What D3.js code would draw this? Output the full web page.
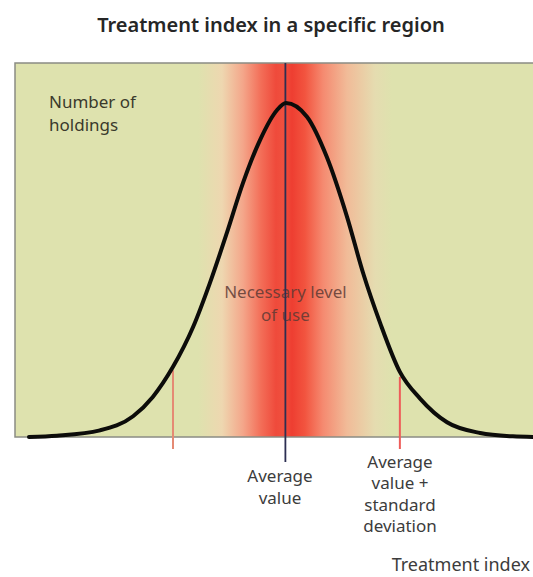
<!DOCTYPE html>
<html>
<head>
<meta charset="utf-8">
<script src="https://cdn.jsdelivr.net/npm/d3@7"></script>
<style>
  body { margin: 0; background: #fff; }
  svg { display: block; }
  text { font-family: "Noto Sans", "Open Sans", sans-serif; }
</style>
</head>
<body>
<div id="chart"></div>
<script>
// treatment index (0-100 across the box) and number of holdings (peak = 100)
var treatmentIndex = [2.7, 8.1, 16.4, 22.8, 26.6, 30.5, 34.4, 37.6, 40.9, 44.0, 47.3, 50.6, 52.3,
                      56.4, 60.2, 64.1, 67.2, 70.5, 74.3, 78.2, 83.4, 89.8, 96.1, 100];
var holdings = [0, 0.4, 2.0, 6.2, 12.0, 21.0, 33.0, 46.0, 61.1, 76.0, 88.9, 97.9, 100,
                95.8, 83.8, 65.9, 49.1, 34.1, 19.5, 11.5, 4.4, 1.2, 0.2, 0];

var averageValue = 52.2;
var sdMarkers = [30.5, 74.3];     // lower / upper marker
var sdMarkerTop = [20, 18];       // where the curve crosses them

var title = "Treatment index in a specific region";
var yLabel = ["Number of", "holdings"];
var xLabel = "Treatment index";
var bandLabel = ["Necessary level", "of use"];
var avgLabel = ["Average", "value"];
var sdLabel = ["Average", "value +", "standard", "deviation"];

var W = 533, H = 577;
var box = {left: 15, top: 63, bottom: 437, right: 533};

var x = d3.scaleLinear().domain([0, 100]).range([box.left, box.right]);
var y = d3.scaleLinear().domain([0, 100]).range([box.bottom, 103]);

var svg = d3.select('#chart').append('svg')
    .attr('width', W)
    .attr('height', H);

// red band behind the average
var defs = svg.append('defs');
var grad = defs.append('linearGradient')
    .attr('id', 'band')
    .attr('gradientUnits', 'userSpaceOnUse')
    .attr('x1', box.left).attr('x2', box.right)
    .attr('y1', 0).attr('y2', 0);

var bg = '#dee2ae';
var stops = [
  [box.left, bg], [198, bg], [222, '#eed7b0'], [243, '#f4a68a'], [261, '#f36e58'],
  [276, '#ef4a3b'], [283, '#f0503e'], [292, '#ee3e31'], [305, '#f2543f'], [323, '#f58a70'],
  [347, '#f1bb98'], [375, '#e5dcb0'], [392, bg], [box.right, bg]
];
grad.selectAll('stop')
    .data(stops)
    .enter()
    .append('stop')
    .attr('offset', function(d){ return (d[0] - box.left) / (box.right - box.left); })
    .attr('stop-color', function(d){ return d[1]; });

svg.append('rect')
    .attr('x', box.left)
    .attr('y', box.top)
    .attr('width', box.right - box.left + 10)
    .attr('height', box.bottom - box.top)
    .attr('fill', 'url(#band)')
    .attr('stroke', '#8b8c84')
    .attr('stroke-width', 1.5);

// title
svg.append('text')
    .attr('x', 271)
    .attr('y', 32)
    .attr('text-anchor', 'middle')
    .attr('font-size', '20px')
    .attr('font-weight', 600)
    .attr('fill', '#262626')
    .text(title);

// y label
svg.append('g')
    .selectAll('text')
    .data(yLabel)
    .enter()
    .append('text')
    .attr('x', 49)
    .attr('y', function(d,i){ return 108 + i*23; })
    .attr('font-size', '17px')
    .attr('fill', '#3a3a2c')
    .text(function(d){ return d; });

// band label
svg.append('g')
    .selectAll('text')
    .data(bandLabel)
    .enter()
    .append('text')
    .attr('x', x(averageValue))
    .attr('y', function(d,i){ return 298 + i*23; })
    .attr('text-anchor', 'middle')
    .attr('font-size', '17px')
    .attr('fill', '#5e3a34')
    .attr('fill-opacity', 0.85)
    .text(function(d){ return d; });

// sd markers
svg.append('g')
    .selectAll('line')
    .data(sdMarkers)
    .enter()
    .append('line')
    .attr('x1', function(d){ return x(d); })
    .attr('x2', function(d){ return x(d); })
    .attr('y1', function(d,i){ return y(sdMarkerTop[i]); })
    .attr('y2', 449)
    .attr('stroke', function(d,i){ return i ? '#ee5d5a' : '#e58a74'; })
    .attr('stroke-width', 2);

// average line
svg.append('line')
    .attr('x1', x(averageValue)).attr('x2', x(averageValue))
    .attr('y1', box.top).attr('y2', 462)
    .attr('stroke', '#2c2f52')
    .attr('stroke-width', 1.8);

// the curve
var pts = treatmentIndex.map(function(t,i){ return [t, holdings[i]]; });
var line = d3.line()
    .x(function(d){ return x(d[0]); })
    .y(function(d){ return y(d[1]); })
    .curve(d3.curveMonotoneX);

svg.append('path')
    .datum(pts)
    .attr('d', line)
    .attr('fill', 'none')
    .attr('stroke', '#0c0c0a')
    .attr('stroke-width', 4)
    .attr('stroke-linecap', 'round');

// labels under the axis
svg.append('g')
    .selectAll('text')
    .data(avgLabel)
    .enter()
    .append('text')
    .attr('x', 280)
    .attr('y', function(d,i){ return 482 + i*22; })
    .attr('text-anchor', 'middle')
    .attr('font-size', '17px')
    .attr('fill', '#3c3c3c')
    .text(function(d){ return d; });

svg.append('g')
    .selectAll('text')
    .data(sdLabel)
    .enter()
    .append('text')
    .attr('x', 400)
    .attr('y', function(d,i){ return 468 + i*21.3; })
    .attr('text-anchor', 'middle')
    .attr('font-size', '17px')
    .attr('fill', '#3c3c3c')
    .text(function(d){ return d; });

svg.append('text')
    .attr('x', 530)
    .attr('y', 571)
    .attr('text-anchor', 'end')
    .attr('font-size', '18px')
    .attr('fill', '#3c3c3c')
    .text(xLabel);
</script>
</body>
</html>
